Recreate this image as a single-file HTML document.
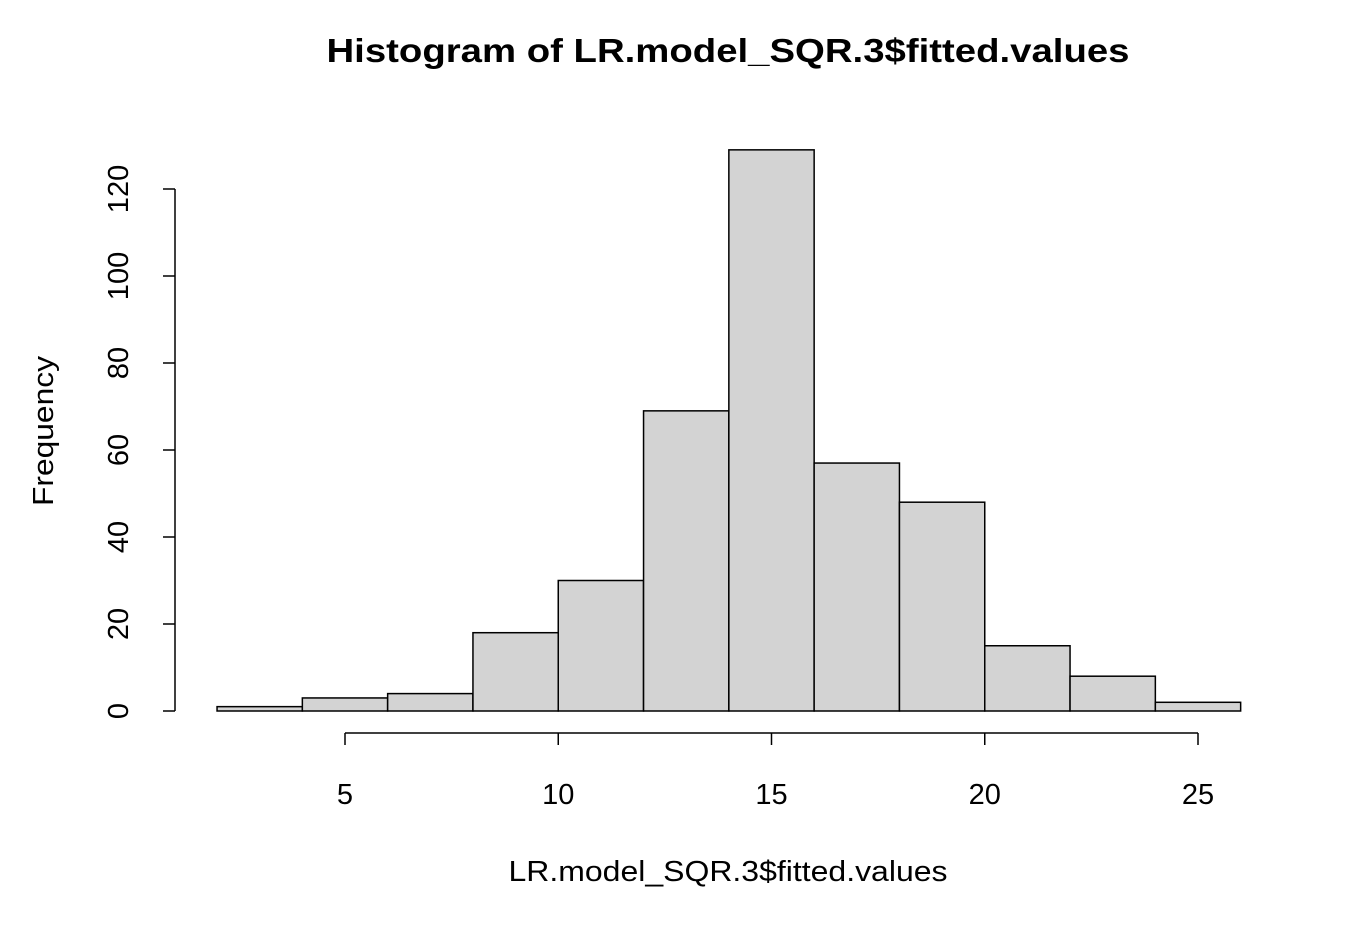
<!DOCTYPE html>
<html><head><meta charset="utf-8"><style>
html,body{margin:0;padding:0;background:#fff;}
svg{display:block;font-family:"Liberation Sans",Arial,sans-serif;}
</style></head><body>
<svg id="chart" width="1350" height="926" viewBox="0 0 1350 926">
<text x="728" y="62" text-anchor="middle" font-size="33" font-weight="bold" textLength="803" lengthAdjust="spacingAndGlyphs">Histogram of LR.model_SQR.3$fitted.values</text>
<text x="728" y="881" text-anchor="middle" font-size="29" textLength="439" lengthAdjust="spacingAndGlyphs">LR.model_SQR.3$fitted.values</text>
<text transform="translate(53,431) rotate(-90)" text-anchor="middle" font-size="29" textLength="150" lengthAdjust="spacingAndGlyphs">Frequency</text>
<g id="bars"></g><g id="xaxis"></g><g id="yaxis"></g>
</svg>
<script>
const binEdges = [2,4,6,8,10,12,14,16,18,20,22,24,26];
const counts = [1,3,4,18,30,69,129,57,48,15,8,2];
const xTicks = [5,10,15,20,25];
const yTicks = [0,20,40,60,80,100,120];
const NS = "http://www.w3.org/2000/svg";
function sx(v){return 345 + (v-5)*42.65;}
function sy(v){return 711 - v*4.35;}
function mk(tag, attrs, parent){const e=document.createElementNS(NS,tag);for(const k in attrs)e.setAttribute(k,attrs[k]);parent.appendChild(e);return e;}
const bars=document.getElementById('bars');
counts.forEach((c,i)=>{
  const x0=sx(binEdges[i]), x1=sx(binEdges[i+1]);
  const r=mk('rect',{x:x0,y:sy(c),width:x1-x0,height:sy(0)-sy(c),fill:'#d3d3d3',stroke:'#000','stroke-width':1.5},bars);
  
  
});
const xa=document.getElementById('xaxis');
const xl=mk('line',{x1:sx(xTicks[0]),x2:sx(xTicks[xTicks.length-1]),y1:733,y2:733,stroke:'#000','stroke-width':1.5},xa);


xTicks.forEach(t=>{
  mk('line',{x1:sx(t),x2:sx(t),y1:733,y2:745,stroke:'#000','stroke-width':1.5},xa);
  const tx=mk('text',{x:sx(t),y:804,'text-anchor':'middle','font-size':29},xa);
  tx.textContent=t;
  
  
});
const ya=document.getElementById('yaxis');
const yl=mk('line',{x1:175,x2:175,y1:sy(yTicks[0]),y2:sy(yTicks[yTicks.length-1]),stroke:'#000','stroke-width':1.5},ya);


yTicks.forEach(t=>{
  mk('line',{x1:163,x2:175,y1:sy(t),y2:sy(t),stroke:'#000','stroke-width':1.5},ya);
  const tx=mk('text',{transform:'translate(128,'+sy(t)+') rotate(-90)','text-anchor':'middle','font-size':29},ya);
  tx.textContent=t;
  
  
});
</script>
</body></html>
